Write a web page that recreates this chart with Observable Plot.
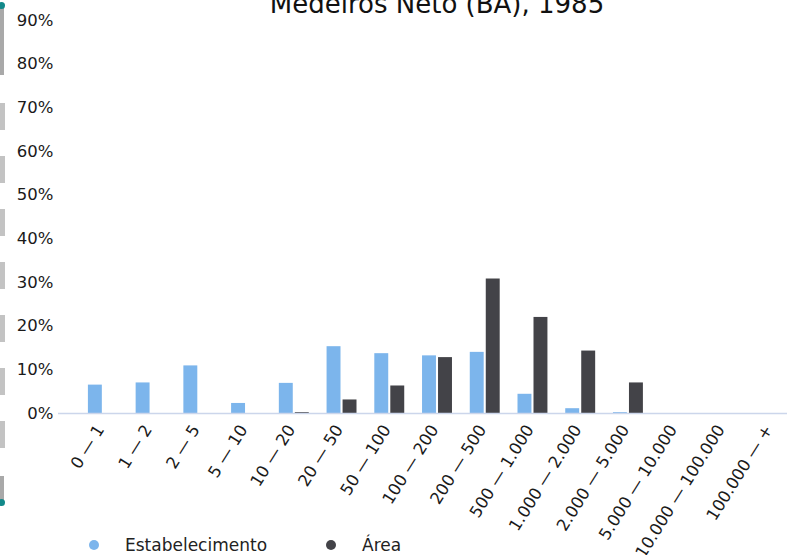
<!DOCTYPE html>
<html>
<head>
<meta charset="utf-8">
<script src="https://cdn.jsdelivr.net/npm/d3@7"></script>
<script src="https://cdn.jsdelivr.net/npm/@observablehq/plot@0.6"></script>
<style>
  html, body { margin: 0; padding: 0; background: #fff; }
  #wrap { position: relative; width: 787px; height: 555px; overflow: hidden; font-family: "DejaVu Sans", sans-serif; }
  #title { position: absolute; left: 0; width: 874px; top: -9px; text-align: center; font-size: 26px; line-height: 26px; color: #111; white-space: nowrap; }
  #chart { position: absolute; left: 0; top: 0; }
  #strip { position: absolute; left: 0; top: 0; width: 5px; height: 555px; }
  .leg { position: absolute; font-size: 17px; line-height: 17px; color: #222; white-space: nowrap; }
  .dot { position: absolute; width: 10px; height: 10px; border-radius: 50%; }
</style>
</head>
<body>
<div id="wrap">
  <div id="chart"></div>
  <div id="title">Medeiros Neto (BA), 1985</div>
  <div id="strip">
    <div style="position:absolute;left:0;top:5px;width:4px;height:70px;background:#a9a9a9"></div>
    <div style="position:absolute;left:-2px;top:2px;width:7px;height:7px;border-radius:50%;background:#12898a"></div>
    <div style="position:absolute;left:0;top:103px;width:5px;height:347px;background:repeating-linear-gradient(to bottom,#c3c3c3 0,#c3c3c3 27px,transparent 27px,transparent 53px)"></div>
    <div style="position:absolute;left:0;top:476px;width:4px;height:26px;background:#a9a9a9"></div>
    <div style="position:absolute;left:-2px;top:499px;width:7px;height:7px;border-radius:50%;background:#12898a"></div>
  </div>
  <div class="dot" style="left:89px;top:540px;background:#7cb5ec"></div>
  <div class="leg" style="left:125px;top:537px">Estabelecimento</div>
  <div class="dot" style="left:326px;top:540px;background:#434348"></div>
  <div class="leg" style="left:362px;top:537px">Área</div>
</div>
<script>
const categories = ["0 — 1", "1 — 2", "2 — 5", "5 — 10", "10 — 20", "20 — 50", "50 — 100", "100 — 200", "200 — 500", "500 — 1.000", "1.000 — 2.000", "2.000 — 5.000", "5.000 — 10.000", "10.000 — 100.000", "100.000 — +"];
const estabelecimento = [6.5, 7.0, 10.9, 2.3, 6.9, 15.3, 13.7, 13.2, 14.0, 4.4, 1.1, 0.2, 0, 0, 0];
const area = [0, 0, 0, 0, 0.2, 3.1, 6.3, 12.8, 30.8, 22.0, 14.3, 7.0, 0, 0, 0];
const yTicks = [0, 10, 20, 30, 40, 50, 60, 70, 80, 90];
const seriesNames = ["Estabelecimento", "Área"];
const seriesColors = ["#7cb5ec", "#434348"];

const estData = categories.map((c, i) => ({cat: c, v: estabelecimento[i]}));
const areaData = categories.map((c, i) => ({cat: c, v: area[i]}));

const W = 787, H = 555;
const inset = 16.9;

const chart = Plot.plot({
  width: W,
  height: H,
  marginLeft: 58,
  marginRight: 0,
  marginTop: 20,
  marginBottom: H - 413,
  style: {fontFamily: "DejaVu Sans, sans-serif", fontSize: "16.5px", color: "#1a1a1a", background: "transparent"},
  x: {type: "band", domain: categories, range: [79, 795], padding: 0, round: false, axis: null},
  y: {domain: [0, 90], axis: null},
  marks: [
    Plot.barY(estData, {x: "cat", y: "v", fill: seriesColors[0], dx: -8, insetLeft: inset, insetRight: inset}),
    Plot.barY(areaData, {x: "cat", y: "v", fill: seriesColors[1], dx: 8, insetLeft: inset, insetRight: inset}),
    Plot.ruleY([0], {stroke: "#ccd6eb", strokeWidth: 1.5}),
    Plot.axisY({ticks: yTicks, tickSize: 0, tickPadding: 5, tickFormat: d => d + "%", label: null}),
    Plot.axisX({tickSize: 0, tickRotate: -58, tickPadding: 13, dx: -3, fontSize: "16.5px", label: null})
  ]
});
document.getElementById("chart").appendChild(chart);
</script>
</body>
</html>
